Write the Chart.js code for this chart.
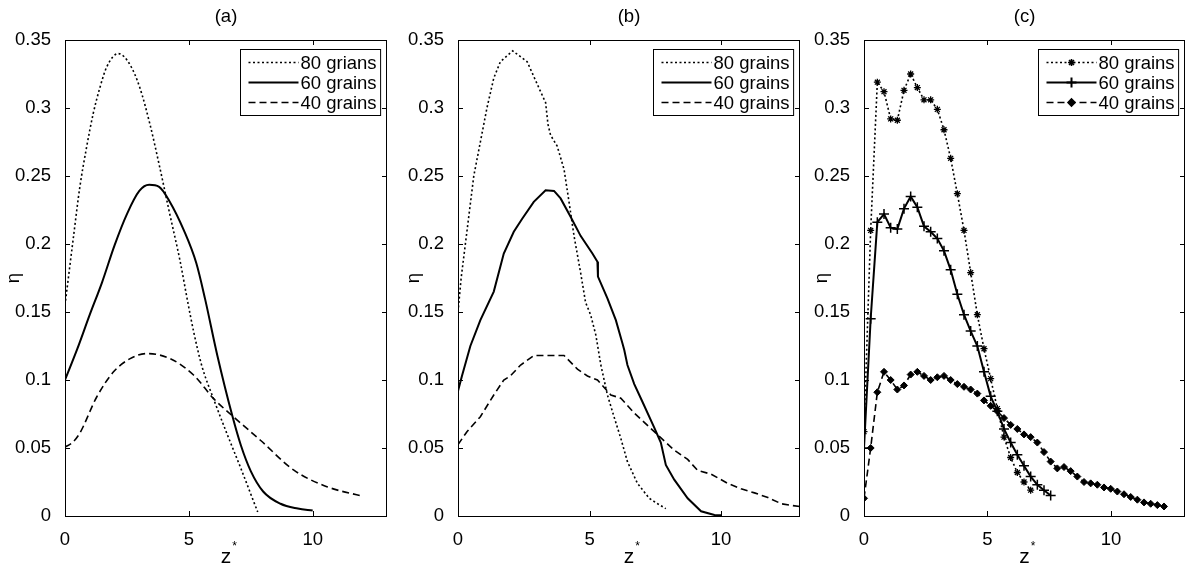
<!DOCTYPE html>
<html><head><meta charset="utf-8">
<script src="https://cdn.jsdelivr.net/npm/chart.js@4/dist/chart.umd.min.js"></script>
<style>
html,body{margin:0;padding:0;background:#fff;width:1192px;height:573px;overflow:hidden}
.p{position:absolute;top:0}
</style></head><body>
<div class="p" style="left:0px"><canvas id="ca" width="400" height="573"></canvas></div>
<div class="p" style="left:400px"><canvas id="cb" width="406" height="573"></canvas></div>
<div class="p" style="left:806px"><canvas id="cc" width="386" height="573"></canvas></div>
<script>
// ---------- tick labels ----------
const xTickVals = [0, 5, 10];
const yTickVals = [0, 0.05, 0.1, 0.15, 0.2, 0.25, 0.3, 0.35];
const yTickLabels = ['0', '0.05', '0.1', '0.15', '0.2', '0.25', '0.3', '0.35'];
const panelTitles = ['(a)', '(b)', '(c)'];
const legendA = ['80 grians', '60 grains', '40 grains'];
const legendB = ['80 grains', '60 grains', '40 grains'];
const legendC = ['80 grains', '60 grains', '40 grains'];

// ---------- panel (a) ----------
const zA80 = [0, 0.34, 0.6, 0.87, 1.14, 1.41, 1.68, 2.15, 2.62, 3.02, 3.43, 3.83, 4.23, 4.64, 4.98, 5.2, 5.53, 6.0, 6.55, 7.1, 7.63, 7.78];
const yA80 = [0.155, 0.205, 0.242, 0.271, 0.296, 0.315, 0.330, 0.340, 0.332, 0.315, 0.288, 0.256, 0.222, 0.188, 0.155, 0.135, 0.11, 0.086, 0.06, 0.035, 0.01, 0.003];
const zA60 = [0, 0.5, 1, 1.5, 2, 2.5, 3, 3.4, 3.8, 4.2, 4.8, 5.3, 5.65, 6.15, 6.75, 7.1, 7.5, 8.0, 8.7, 9.4, 10];
const yA60 = [0.1, 0.123, 0.148, 0.172, 0.199, 0.222, 0.239, 0.2435, 0.242, 0.232, 0.21, 0.186, 0.160, 0.118, 0.074, 0.052, 0.033, 0.018, 0.009, 0.0055, 0.004];
const zA40 = [0, 0.3, 0.6, 1.28, 1.96, 2.63, 3.3, 4.25, 5.2, 6.0, 6.81, 7.89, 9.24, 10.6, 12.0];
const yA40 = [0.0508, 0.054, 0.061, 0.0875, 0.106, 0.1157, 0.1194, 0.1157, 0.1035, 0.0863, 0.0728, 0.0557, 0.0337, 0.0214, 0.0146];

// ---------- panel (b) ----------
const zB80 = [0, 0.12, 0.28, 0.6, 1.1, 1.36, 1.61, 2.08, 2.63, 3.14, 3.33, 3.42, 3.52, 3.77, 4.03, 4.22, 4.41, 4.66, 4.85, 5.04, 5.24, 5.43, 5.68, 5.93, 6.19, 6.44, 6.82, 7.27, 7.59, 7.9];
const yB80 = [0.15, 0.175, 0.2, 0.25, 0.3, 0.322, 0.334, 0.342, 0.334, 0.312, 0.304, 0.288, 0.28, 0.272, 0.255, 0.231, 0.206, 0.179, 0.157, 0.148, 0.133, 0.111, 0.089, 0.073, 0.057, 0.040, 0.024, 0.013, 0.009, 0.0054];
const zB60 = [0, 0.15, 0.47, 0.85, 1.36, 1.74, 2.12, 2.44, 2.88, 3.33, 3.65, 3.9, 4.28, 4.66, 5.11, 5.3, 5.32, 5.68, 6.0, 6.25, 6.32, 6.44, 6.7, 7.01, 7.46, 7.71, 7.9, 8.22, 8.73, 9.24, 9.75, 10.0];
const yB60 = [0.092, 0.103, 0.125, 0.144, 0.165, 0.193, 0.209, 0.2186, 0.231, 0.2395, 0.239, 0.2335, 0.22, 0.206, 0.193, 0.187, 0.176, 0.16, 0.144, 0.127, 0.122, 0.111, 0.097, 0.084, 0.065, 0.054, 0.0375, 0.0267, 0.013, 0.0035, 0.0008, 0.0005];
const zB40 = [0, 0.34, 0.85, 1.36, 1.74, 1.99, 2.38, 2.88, 4.03, 4.54, 4.92, 5.3, 5.81, 6.19, 6.7, 7.46, 8.22, 8.73, 9.11, 9.62, 10.25, 10.76, 11.27, 11.78, 12.29, 12.73, 13];
const yB40 = [0.0525, 0.062, 0.073, 0.089, 0.1, 0.103, 0.111, 0.118, 0.118, 0.108, 0.103, 0.1, 0.089, 0.0866, 0.0757, 0.062, 0.0484, 0.0416, 0.0335, 0.0308, 0.024, 0.020, 0.017, 0.0136, 0.009, 0.0076, 0.007];

// ---------- panel (c) ----------
const zC = [0, 0.27, 0.54, 0.81, 1.08, 1.35, 1.62, 1.89, 2.16, 2.43, 2.70, 2.97, 3.24, 3.51, 3.78, 4.05, 4.32, 4.59, 4.86, 5.13, 5.40, 5.67, 5.94, 6.21, 6.48, 6.75, 7.02, 7.29, 7.56, 7.83, 8.10, 8.37, 8.64, 8.91, 9.18, 9.45, 9.72, 9.99, 10.26, 10.53, 10.80, 11.07, 11.34, 11.61, 11.88, 12.15];
const yC80 = [0.062, 0.21, 0.319, 0.312, 0.292, 0.291, 0.313, 0.325, 0.315, 0.306, 0.306, 0.299, 0.284, 0.263, 0.237, 0.21, 0.179, 0.148, 0.123, 0.101, 0.079, 0.058, 0.043, 0.032, 0.025, 0.019];
const yC60 = [0.05, 0.145, 0.216, 0.222, 0.212, 0.211, 0.226, 0.235, 0.227, 0.213, 0.209, 0.204, 0.195, 0.181, 0.163, 0.148, 0.136, 0.125, 0.106, 0.088, 0.077, 0.064, 0.054, 0.045, 0.037, 0.029, 0.023, 0.019, 0.015];
const yC40 = [0.013, 0.05, 0.091, 0.106, 0.1, 0.093, 0.096, 0.104, 0.106, 0.103, 0.1, 0.102, 0.103, 0.1, 0.097, 0.095, 0.093, 0.09, 0.085, 0.081, 0.077, 0.072, 0.067, 0.064, 0.06, 0.058, 0.054, 0.047, 0.04, 0.035, 0.036, 0.033, 0.029, 0.025, 0.024, 0.023, 0.021, 0.02, 0.018, 0.016, 0.014, 0.012, 0.010, 0.009, 0.008, 0.007];

const FONT = '"Liberation Sans", Arial, Helvetica, sans-serif';
const FS = 18.5;

function pts(zs, ys) { return ys.map((v, i) => ({x: zs[i], y: v})); }

const STY80 = {borderColor: '#000', backgroundColor: '#000', borderWidth: 1.6, borderDash: [2, 2.5]};
const STY60 = {borderColor: '#000', backgroundColor: '#000', borderWidth: 2, borderDash: []};
const STY40 = {borderColor: '#000', backgroundColor: '#000', borderWidth: 1.6, borderDash: [7, 4]};

const framePlugin = {
  id: 'frame',
  afterDraw(chart, args, o) {
    const {ctx, chartArea: a, scales: {x, y}} = chart;
    ctx.save();
    ctx.setLineDash([]);
    ctx.strokeStyle = '#000';
    ctx.lineWidth = 1;
    // ticks (inward, all four sides)
    const L = 5;
    ctx.beginPath();
    x.ticks.forEach(t => {
      const px = Math.round(x.getPixelForValue(t.value)) + 0.5;
      ctx.moveTo(px, a.bottom); ctx.lineTo(px, a.bottom - L);
      ctx.moveTo(px, a.top); ctx.lineTo(px, a.top + L);
    });
    y.ticks.forEach(t => {
      const py = Math.round(y.getPixelForValue(t.value)) + 0.5;
      ctx.moveTo(a.left, py); ctx.lineTo(a.left + L, py);
      ctx.moveTo(a.right, py); ctx.lineTo(a.right - L, py);
    });
    ctx.stroke();
    // legend box
    ctx.font = FS + 'px ' + FONT;
    const texts = chart.data.datasets.map(d => d.label);
    const tw = Math.max(...texts.map(t => ctx.measureText(t).width));
    const sampleW = 50, padL = 8, gap = 2, padR = 4, rowH = 20;
    const bw = padL + sampleW + gap + tw + padR;
    const bh = rowH * 3 + 6;
    const bx = Math.round(a.right - 7 - bw) + 0.5;
    const by = Math.round(a.top + 9) + 0.5;
    ctx.fillStyle = '#fff';
    ctx.fillRect(bx, by, bw, bh);
    ctx.lineWidth = 1;
    ctx.strokeRect(bx, by, bw, bh);
    chart.data.datasets.forEach((d, i) => {
      const cy = by + 3 + rowH * i + rowH / 2;
      const sx0 = bx + padL, sx1 = bx + padL + sampleW;
      ctx.save();
      ctx.strokeStyle = '#000';
      ctx.lineWidth = d.borderWidth;
      ctx.setLineDash(d.borderDash || []);
      ctx.beginPath(); ctx.moveTo(sx0, cy); ctx.lineTo(sx1, cy); ctx.stroke();
      ctx.setLineDash([]);
      if (d.pointRadius > 0) {
        ctx.fillStyle = '#000';
        Chart.helpers.drawPoint(ctx, {pointStyle: d.pointStyle, radius: d.pointRadius, borderWidth: d.pointBorderWidth, rotation: 0}, (sx0 + sx1) / 2, cy);
      }
      ctx.restore();
      ctx.fillStyle = '#000';
      ctx.textAlign = 'left'; ctx.textBaseline = 'middle';
      ctx.fillText(d.label, sx1 + gap, cy + 1);
    });
    // frame
    ctx.strokeStyle = '#000';
    ctx.lineWidth = 1;
    ctx.strokeRect(Math.round(a.left) + 0.5, Math.round(a.top) + 0.5, Math.round(a.right - a.left) - 1, Math.round(a.bottom - a.top));
    // panel title
    ctx.fillStyle = '#000';
    ctx.font = FS + 'px ' + FONT;
    ctx.textAlign = 'center'; ctx.textBaseline = 'middle';
    ctx.fillText(o.title, (a.left + a.right) / 2, 17);
    // superscript asterisk of z*
    ctx.font = '21px ' + FONT;
    const zw = ctx.measureText('z').width;
    ctx.font = '12px ' + FONT;
    ctx.textAlign = 'left';
    ctx.fillText('*', (a.left + a.right) / 2 + zw / 2 + 1, 547);
    ctx.restore();
  }
};

function makePanel(id, title, yW, padR, titlePad, datasets, smooth) {
  new Chart(document.getElementById(id), {
    type: 'line',
    data: {datasets},
    plugins: [framePlugin],
    options: {
      responsive: false, animation: false, devicePixelRatio: 1,
      layout: {padding: {top: 40, right: padR, bottom: 0, left: 0}},
      elements: {line: {tension: smooth ? 0.4 : 0, cubicInterpolationMode: smooth ? 'monotone' : 'default'}},
      plugins: {legend: {display: false}, tooltip: {enabled: false}, title: {display: false}, frame: {title}},
      scales: {
        x: {
          type: 'linear', min: 0, max: 13,
          afterBuildTicks: s => { s.ticks = xTickVals.map(v => ({value: v})); },
          afterFit: s => { s.height = 57; },
          grid: {display: false}, border: {display: false},
          ticks: {color: '#000', font: {family: FONT, size: FS}, padding: 5, maxRotation: 0, callback: v => String(v)},
          title: {display: true, text: 'z', color: '#000', font: {family: FONT, size: 21}, padding: {top: 0, bottom: 3}}
        },
        y: {
          type: 'linear', min: 0, max: 0.35,
          afterBuildTicks: s => { s.ticks = yTickVals.map(v => ({value: v})); },
          afterFit: s => { s.width = yW; },
          grid: {display: false}, border: {display: false},
          ticks: {color: '#000', font: {family: FONT, size: FS}, padding: 6, callback: (v, i) => yTickLabels[i]},
          title: {display: true, text: 'η', color: '#000', font: {family: FONT, size: FS}, padding: {top: titlePad, bottom: 0}}
        }
      }
    }
  });
}

makePanel('ca', panelTitles[0], 65, 13, 3, [
  Object.assign({label: legendA[0], data: pts(zA80, yA80), pointRadius: 0}, STY80),
  Object.assign({label: legendA[1], data: pts(zA60, yA60), pointRadius: 0}, STY60),
  Object.assign({label: legendA[2], data: pts(zA40, yA40), pointRadius: 0}, STY40)
], true);

makePanel('cb', panelTitles[1], 58, 6, 3, [
  Object.assign({label: legendB[0], data: pts(zB80, yB80), pointRadius: 0}, STY80),
  Object.assign({label: legendB[1], data: pts(zB60, yB60), pointRadius: 0}, STY60),
  Object.assign({label: legendB[2], data: pts(zB40, yB40), pointRadius: 0}, STY40)
], false);

makePanel('cc', panelTitles[2], 58, 7, 5, [
  Object.assign({label: legendC[0], data: pts(zC, yC80), pointRadius: 3.5, pointStyle: 'star', pointBorderWidth: 1.3, pointBorderColor: '#000', pointBackgroundColor: '#000'}, STY80),
  Object.assign({label: legendC[1], data: pts(zC, yC60), pointRadius: 5, pointStyle: 'cross', pointBorderWidth: 1.5, pointBorderColor: '#000', pointBackgroundColor: '#000'}, STY60),
  Object.assign({label: legendC[2], data: pts(zC, yC40), pointRadius: 3.5, pointStyle: 'rectRot', pointBorderWidth: 1, pointBorderColor: '#000', pointBackgroundColor: '#000'}, STY40)
], false);
</script>
</body></html>
